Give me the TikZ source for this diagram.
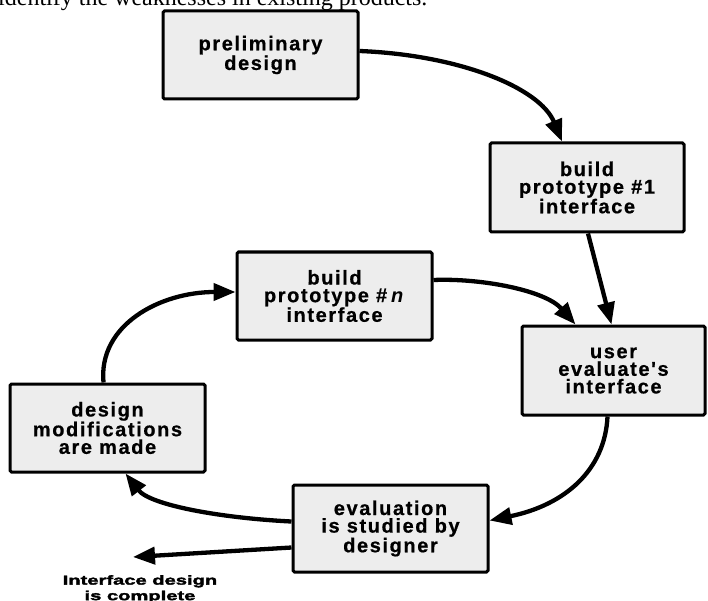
\documentclass[tikz,border=0pt]{standalone}
\usepackage{fontspec}
\setmainfont{Liberation Sans}
\newfontfamily\boxfont{Liberation Sans}[LetterSpace=8, BoldFeatures={FakeBold=0.6}]
\newfontfamily\heavyfont{Liberation Sans}[BoldFeatures={FakeBold=2.5,FakeStretch=1.55}]
\newfontfamily\pagefont{Liberation Serif}
\usetikzlibrary{arrows.meta}
\definecolor{boxgray}{HTML}{EDEDED}
\tikzset{
  stepbox/.style={draw=black, line width=3pt, fill=boxgray, rounded corners=1.5pt,
    minimum width=195pt, minimum height=88pt, inner sep=0pt, align=center,
    font=\boxfont\bfseries\fontsize{20}{17.6}\selectfont},
  flow/.style={line width=4.3pt, -{Triangle[length=22pt,width=17pt]}},
}
\begin{document}
\begin{tikzpicture}[x=1pt,y=-1pt]
\useasboundingbox (0,0) rectangle (708,601);
\clip (0,0) rectangle (708,601);
\node[anchor=base west, inner sep=0pt, font=\pagefont\fontsize{24}{24}\selectfont] (caption) at (-2,6) {identify the weaknesses in existing products.};

\node[stepbox] (prelim) at (260.5,55) {preliminary\\design};
\node[stepbox, minimum width=194pt, minimum height=89pt] (build1) at (587,187.5) {build\\prototype \#1\\interface};
\node[stepbox] (buildn) at (334.5,296) {build\\prototype \#\hspace{4pt}\textit{n}\\interface};
\node[stepbox, minimum width=183pt, minimum height=89pt] (user) at (613.5,370.5) {user\\evaluate's\\interface};
\node[stepbox] (designmod) at (107.5,428) {design\\modifications\\are made};
\node[stepbox, minimum height=87pt] (evalnode) at (390.5,528.5) {evaluation\\is studied by\\designer};

\node[anchor=north, inner sep=0pt, align=center, font=\heavyfont\bfseries\fontsize{13}{15.5}\selectfont] (done) at (140,575) {Interface design\\is complete};
\coordinate (doneend) at (133,557);

\draw[flow] ([yshift=4pt]prelim.east) .. controls (460,55) and (540,88) .. ([xshift=-25pt]build1.north);
\draw[flow] ([xshift=1pt]build1.south) -- ([xshift=-2pt]user.north);
\draw[flow] ([yshift=16pt]buildn.east) .. controls (480,278) and (545,290) .. ([xshift=-38pt]user.north);
\draw[flow] ([xshift=-6pt]user.south) .. controls (605,470) and (565,505) .. ([yshift=8pt]evalnode.east);
\draw[flow] ([yshift=7pt]evalnode.west) .. controls (220,518) and (150,505) .. ([xshift=18pt]designmod.south);
\draw[flow] ([xshift=-4pt]designmod.north) .. controls (98,325) and (160,292) .. ([yshift=4pt]buildn.west);
\draw[flow] ([yshift=-19pt]evalnode.west) -- (doneend);
\end{tikzpicture}
\end{document}
